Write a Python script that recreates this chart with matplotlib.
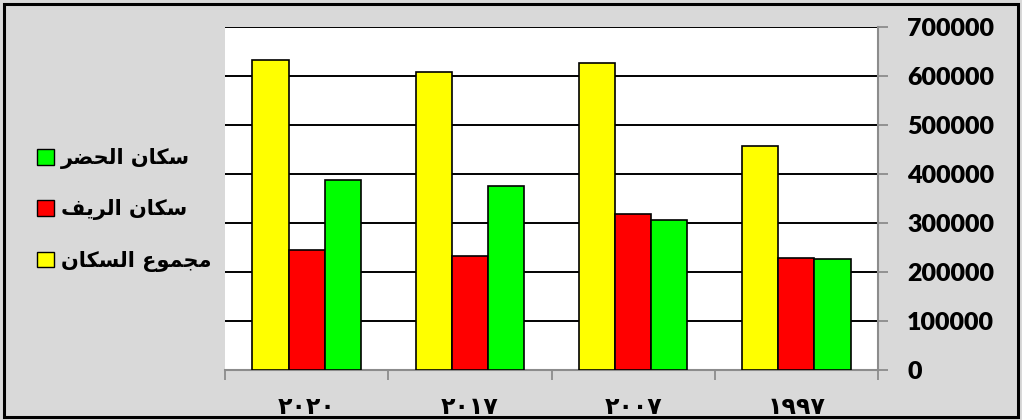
import matplotlib
matplotlib.use("Agg")
import matplotlib.pyplot as plt
import numpy as np
from matplotlib.patches import Patch, Rectangle

# values (groups left to right)
years = ['٢٠٢٠', '٢٠١٧', '٢٠٠٧', '١٩٩٧']
total = [632000, 609000, 626000, 457000]      # مجموع السكان
rural = [244000, 233000, 318000, 228000]      # سكان الريف
urban = [387000, 376000, 307000, 227000]      # سكان الحضر

series_names = ['مجموع السكان', 'سكان الريف', 'سكان الحضر']
colors = ['#ffff00', '#ff0000', '#00ff00']

# matplotlib does no arabic shaping, so pick presentation forms by hand
# (isolated, final, initial, medial)
FORMS = {
    'ا': ('\uFE8D', '\uFE8E', None, None),
    'ج': ('\uFE9D', '\uFE9E', '\uFE9F', '\uFEA0'),
    'ح': ('\uFEA1', '\uFEA2', '\uFEA3', '\uFEA4'),
    'ر': ('\uFEAD', '\uFEAE', None, None),
    'س': ('\uFEB1', '\uFEB2', '\uFEB3', '\uFEB4'),
    'ض': ('\uFEBD', '\uFEBE', '\uFEBF', '\uFEC0'),
    'ع': ('\uFEC9', '\uFECA', '\uFECB', '\uFECC'),
    'ف': ('\uFED1', '\uFED2', '\uFED3', '\uFED4'),
    'ك': ('\uFED9', '\uFEDA', '\uFEDB', '\uFEDC'),
    'ل': ('\uFEDD', '\uFEDE', '\uFEDF', '\uFEE0'),
    'م': ('\uFEE1', '\uFEE2', '\uFEE3', '\uFEE4'),
    'ن': ('\uFEE5', '\uFEE6', '\uFEE7', '\uFEE8'),
    'و': ('\uFEED', '\uFEEE', None, None),
    'ي': ('\uFEF1', '\uFEF2', '\uFEF3', '\uFEF4'),
}

def shape(text):
    out = []
    for i, c in enumerate(text):
        if c not in FORMS:
            out.append(c)
            continue
        iso, fin, ini, med = FORMS[c]
        prev = text[i - 1] if i > 0 else None
        nxt = text[i + 1] if i + 1 < len(text) else None
        jp = prev in FORMS and FORMS[prev][2] is not None
        jn = nxt in FORMS and ini is not None
        if jp and jn:
            out.append(med)
        elif jp:
            out.append(fin)
        elif jn:
            out.append(ini)
        else:
            out.append(iso)
    return ''.join(reversed(out))


fig = plt.figure(figsize=(10.22, 4.2), dpi=100, facecolor='#d9d9d9')
ax = fig.add_axes([225 / 1022, 1 - 370 / 420, 653 / 1022, 343 / 420])
ax.set_facecolor('white')

x = np.arange(len(years))
w = 0.222
for k, vals in enumerate([total, rural, urban]):
    ax.bar(x + (k - 1) * w, vals, width=w, color=colors[k],
           edgecolor='black', linewidth=1.2, zorder=3)

ax.set_xlim(-0.5, len(years) - 0.5)
ax.set_ylim(0, 700000)
ax.set_yticks(np.arange(0, 700001, 100000))
ax.yaxis.tick_right()
ax.yaxis.set_label_position('right')
ax.grid(axis='y', color='black', linewidth=1.4, zorder=1)
ax.set_axisbelow(True)

for s in ['left', 'top']:
    ax.spines[s].set_visible(False)
ax.spines['right'].set_color('#8c8c8c')
ax.spines['bottom'].set_color('#8c8c8c')
ax.spines['right'].set_linewidth(1.5)
ax.spines['bottom'].set_linewidth(1.5)

ax.tick_params(axis='y', direction='out', length=7, width=1.3, color='#8c8c8c', pad=14)
for lab in ax.get_yticklabels():
    lab.set_fontfamily('Lato')
    lab.set_fontweight('heavy')
    lab.set_fontsize(18)

ax.set_xticks(x)
ax.set_xticklabels(years, fontfamily='DejaVu Sans', fontweight='bold', fontsize=17)
ax.set_xticks(np.arange(-0.5, len(years)), minor=True)
ax.tick_params(axis='x', which='major', length=0, pad=18)
ax.tick_params(axis='x', which='minor', direction='out', length=7, width=1.3, color='#8c8c8c')

# legend: top to bottom urban, rural, total
handles = [Patch(facecolor=colors[k], edgecolor='black', linewidth=1.0) for k in [2, 1, 0]]
labels = [shape(series_names[k]) for k in [2, 1, 0]]
fig.legend(handles, labels, loc='center left', bbox_to_anchor=(37 / 1022, 1 - 210 / 420),
           frameon=False, borderpad=0, borderaxespad=0,
           handlelength=0.8, handleheight=0.8, handletextpad=0.35,
           labelspacing=1.45, prop={'family': 'DejaVu Sans', 'weight': 'bold', 'size': 15})

# outer black frame
fig.patches.append(Rectangle((4 / 1022, 3 / 420), 1014 / 1022, 413 / 420,
                             transform=fig.transFigure, fill=False,
                             edgecolor='black', linewidth=2.2))

fig.savefig('out.png', dpi=100, facecolor=fig.get_facecolor())
